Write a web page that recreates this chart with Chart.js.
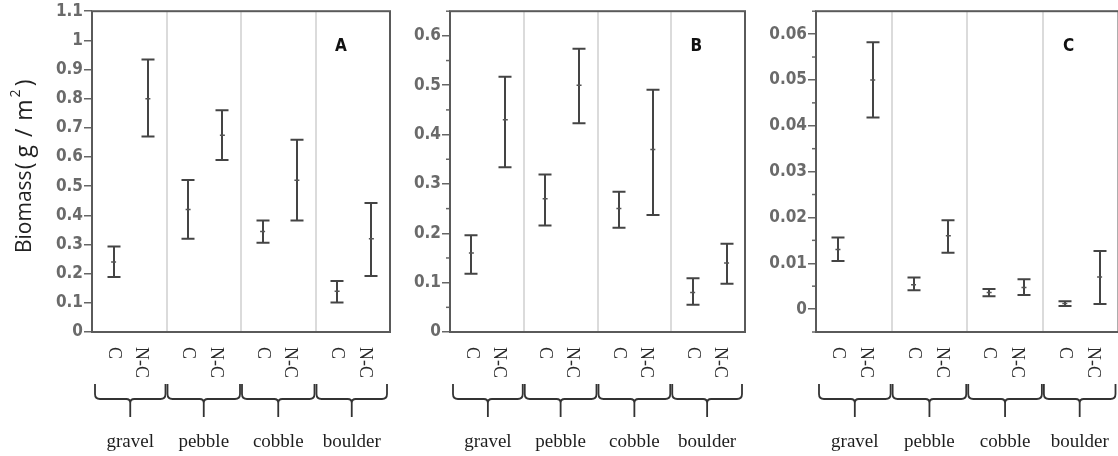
<!DOCTYPE html>
<html>
<head>
<meta charset="utf-8">
<script src="https://cdn.jsdelivr.net/npm/chart.js@4.4.1/dist/chart.umd.min.js"></script>
<style>
  html, body { margin: 0; padding: 0; background: #fff; overflow: hidden; }
  #wrap { position: relative; width: 1118px; height: 456px; overflow: hidden; background: #fff; }
  #wrap canvas { position: absolute; left: 0; top: 0; }
</style>
</head>
<body>
<div id="wrap">
  <canvas id="panelA" width="1124" height="456"></canvas>
  <canvas id="panelB" width="1124" height="456"></canvas>
  <canvas id="panelC" width="1124" height="456"></canvas>
</div>
<script>
// Substrate classes and treatments (C = control, N-C = non-control)
const substrates = ['gravel', 'pebble', 'cobble', 'boulder'];
const treatments = ['C', 'N-C'];

// Biomass (g/m²), ordered gravel C, gravel N-C, pebble C, pebble N-C, ...
const meanA = [0.240, 0.800, 0.420, 0.675, 0.345, 0.520, 0.140, 0.320];
const lowA  = [0.189, 0.670, 0.320, 0.590, 0.306, 0.382, 0.101, 0.192];
const highA = [0.293, 0.934, 0.521, 0.760, 0.382, 0.659, 0.175, 0.442];

const meanB = [0.160, 0.430, 0.270, 0.500, 0.250, 0.370, 0.080, 0.140];
const lowB  = [0.118, 0.334, 0.216, 0.423, 0.211, 0.237, 0.055, 0.098];
const highB = [0.196, 0.517, 0.319, 0.574, 0.284, 0.491, 0.109, 0.179];

const meanC = [0.0130, 0.0500, 0.0053, 0.0160, 0.0036, 0.0047, 0.0012, 0.0070];
const lowC  = [0.0105, 0.0418, 0.0041, 0.0123, 0.0028, 0.0031, 0.0007, 0.0011];
const highC = [0.0156, 0.0582, 0.0069, 0.0194, 0.0044, 0.0065, 0.0017, 0.0127];

// Y-axis tick values
const ticksA = [0, 0.1, 0.2, 0.3, 0.4, 0.5, 0.6, 0.7, 0.8, 0.9, 1, 1.1];
const ticksB = [0, 0.1, 0.2, 0.3, 0.4, 0.5, 0.6];
const ticksC = [0, 0.01, 0.02, 0.03, 0.04, 0.05, 0.06];

// Layout of the three panels on the page
const CANVAS_W = 1124, CANVAS_H = 456;
const Y_AXIS_W = 60;
const AREA_TOP = 10, AREA_BOTTOM = 332;
const TREAT_OFFSET = { 'C': 0.29, 'N-C': 0.75 };

const panels = [
  { id: 'panelA', letter: 'A', mean: meanA, low: lowA, high: highA, ticks: ticksA,
    min: 0, max: 1.1, minor: null, left: 92, right: 390, title: true },
  { id: 'panelB', letter: 'B', mean: meanB, low: lowB, high: highB, ticks: ticksB,
    min: 0, max: 0.65, minor: 0.05, left: 450, right: 745, title: false },
  { id: 'panelC', letter: 'C', mean: meanC, low: lowC, high: highC, ticks: ticksC,
    min: -0.005, max: 0.065, minor: 0.005, left: 816, right: 1121, title: false }
];

const TICK_FONT = '"DejaVu Sans Condensed", "DejaVu Sans", sans-serif';
const SERIF_FONT = '"Liberation Serif", "DejaVu Serif", serif';
const TITLE_FONT = '"Open Sans", "Noto Sans", sans-serif';

// Draws separators, whiskers, frame, panel letter and the grouped category axis
const panelDecor = {
  id: 'panelDecor',
  beforeDatasetsDraw(chart, args, opts) {
    const { ctx, chartArea: a, scales: { x, y } } = chart;
    ctx.save();
    // light separators between substrate classes
    ctx.strokeStyle = '#cfcfcf';
    ctx.lineWidth = 1.5;
    for (let g = 1; g < substrates.length; g++) {
      const px = Math.round(x.getPixelForValue(g));
      ctx.beginPath();
      ctx.moveTo(px, a.top);
      ctx.lineTo(px, a.bottom);
      ctx.stroke();
    }
    // error bars with caps
    ctx.strokeStyle = '#444';
    ctx.lineWidth = 2;
    const cap = 6.5;
    chart.data.datasets[0].data.forEach(p => {
      const px = Math.round(x.getPixelForValue(p.x));
      const yl = y.getPixelForValue(p.lo);
      const yh = y.getPixelForValue(p.hi);
      ctx.beginPath();
      ctx.moveTo(px, yl); ctx.lineTo(px, yh);
      ctx.moveTo(px - cap, yl); ctx.lineTo(px + cap, yl);
      ctx.moveTo(px - cap, yh); ctx.lineTo(px + cap, yh);
      ctx.stroke();
    });
    ctx.restore();
  },
  afterDraw(chart, args, opts) {
    const { ctx, chartArea: a, scales: { x, y } } = chart;
    ctx.save();
    // minor ticks on the value axis
    if (opts.minor) {
      ctx.strokeStyle = '#666';
      ctx.lineWidth = 1.5;
      for (let v = y.min; v <= y.max + 1e-9; v += opts.minor) {
        const r = Math.round(v / opts.minor);
        if (r % 2 === 0) continue;
        const py = y.getPixelForValue(r * opts.minor);
        if (py < a.top || py > a.bottom) continue;
        ctx.beginPath();
        ctx.moveTo(a.left - 4, py);
        ctx.lineTo(a.left, py);
        ctx.stroke();
      }
    }
    // plot frame
    ctx.strokeStyle = '#5a5a5a';
    ctx.lineWidth = 2;
    ctx.strokeRect(a.left, a.top, a.right - a.left, a.bottom - a.top);

    // panel letter
    ctx.fillStyle = '#111';
    ctx.font = 'bold 17px ' + TICK_FONT;
    ctx.textAlign = 'center';
    ctx.textBaseline = 'middle';
    ctx.fillText(opts.letter, a.left + 0.835 * (a.right - a.left), a.top + 35);

    // rotated treatment labels
    ctx.fillStyle = '#2a2a2a';
    ctx.font = '18px ' + SERIF_FONT;
    ctx.textAlign = 'left';
    ctx.textBaseline = 'middle';
    substrates.forEach((s, g) => {
      treatments.forEach(t => {
        let px = x.getPixelForValue(g + TREAT_OFFSET[t]);
        if (t === 'N-C') px -= 7;
        ctx.save();
        ctx.translate(px, a.bottom + 15);
        ctx.rotate(Math.PI / 2);
        ctx.fillText(t, 0, 0);
        ctx.restore();
      });
    });

    // curly braces grouping the treatments
    ctx.strokeStyle = '#333';
    ctx.lineWidth = 1.8;
    const bTop = 384, bLine = 399, bStem = 417;
    substrates.forEach((s, g) => {
      const x0 = x.getPixelForValue(g) + (g === 0 ? 3 : 1);
      const x1 = x.getPixelForValue(g + 1) - (g === substrates.length - 1 ? 3 : 1);
      const xm = (x0 + x1) / 2;
      ctx.beginPath();
      ctx.moveTo(x0, bTop);
      ctx.lineTo(x0, bLine - 5);
      ctx.quadraticCurveTo(x0, bLine, x0 + 5, bLine);
      ctx.lineTo(xm - 4, bLine);
      ctx.quadraticCurveTo(xm, bLine, xm, bLine + 4);
      ctx.lineTo(xm, bStem);
      ctx.moveTo(xm, bLine + 4);
      ctx.quadraticCurveTo(xm, bLine, xm + 4, bLine);
      ctx.lineTo(x1 - 5, bLine);
      ctx.quadraticCurveTo(x1, bLine, x1, bLine - 5);
      ctx.lineTo(x1, bTop);
      ctx.stroke();

      // substrate name
      ctx.fillStyle = '#1e1e1e';
      ctx.font = '19px ' + SERIF_FONT;
      ctx.textAlign = 'center';
      ctx.textBaseline = 'alphabetic';
      ctx.fillText(s, xm, 447);
    });

    // value axis title
    if (opts.title) {
      ctx.save();
      ctx.translate(25, 253);
      ctx.rotate(-Math.PI / 2);
      ctx.fillStyle = '#222';
      ctx.textAlign = 'left';
      ctx.textBaseline = 'middle';
      ctx.font = '21px ' + TITLE_FONT;
      let cx = 0;
      ctx.fillText('Biomass', cx, 0);
      cx += ctx.measureText('Biomass').width + 1;
      ctx.font = '23px ' + TITLE_FONT;
      const parts = ['(', 'g', '/', 'm'];
      const gaps = [5, 8, 8, 2];
      parts.forEach((p, i) => {
        ctx.fillText(p, cx, 0);
        cx += ctx.measureText(p).width + gaps[i];
      });
      ctx.font = '14px ' + TITLE_FONT;
      ctx.fillText('2', cx, -9);
      cx += ctx.measureText('2').width + 3;
      ctx.font = '23px ' + TITLE_FONT;
      ctx.fillText(')', cx, 0);
      ctx.restore();
    }
    ctx.restore();
  }
};

panels.forEach(p => {
  const points = [];
  substrates.forEach((s, g) => {
    treatments.forEach((t, k) => {
      const i = g * treatments.length + k;
      points.push({ x: g + TREAT_OFFSET[t], y: p.mean[i], lo: p.low[i], hi: p.high[i] });
    });
  });

  new Chart(document.getElementById(p.id), {
    type: 'scatter',
    data: {
      datasets: [{
        data: points,
        pointStyle: 'line',
        pointRadius: 2.5,
        pointBorderWidth: 1.5,
        borderColor: '#555',
        backgroundColor: '#555',
        showLine: false
      }]
    },
    options: {
      responsive: false,
      animation: false,
      events: [],
      layout: {
        padding: {
          left: p.left - Y_AXIS_W,
          right: CANVAS_W - p.right,
          top: AREA_TOP,
          bottom: CANVAS_H - AREA_BOTTOM
        }
      },
      plugins: {
        legend: { display: false },
        tooltip: { enabled: false },
        panelDecor: { letter: p.letter, minor: p.minor, title: p.title }
      },
      scales: {
        x: {
          type: 'linear',
          min: 0,
          max: substrates.length,
          display: false
        },
        y: {
          type: 'linear',
          min: p.min,
          max: p.max,
          afterBuildTicks: s => { s.ticks = p.ticks.map(v => ({ value: v })); },
          afterFit: s => { s.width = Y_AXIS_W; },
          border: { display: false },
          grid: {
            drawOnChartArea: false,
            drawTicks: true,
            tickLength: 8,
            color: '#666',
            lineWidth: 1.5
          },
          ticks: {
            autoSkip: false,
            padding: 1,
            color: '#6a6a6a',
            font: { family: TICK_FONT, size: 17, weight: 'bold' },
            callback: v => String(+Number(v).toFixed(3))
          }
        }
      }
    },
    plugins: [panelDecor]
  });
});
</script>
</body>
</html>
